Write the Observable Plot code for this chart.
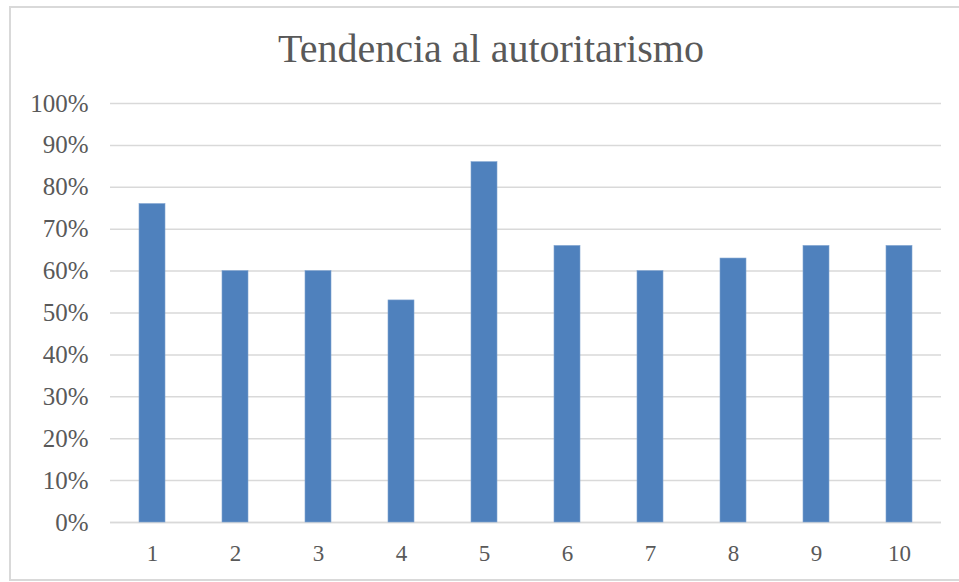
<!DOCTYPE html>
<html><head><meta charset="utf-8">
<script src="https://cdn.jsdelivr.net/npm/d3@7"></script>
<script src="https://cdn.jsdelivr.net/npm/@observablehq/plot@0.6"></script>
<style>
html,body{margin:0;padding:0;background:#fff;}
body{width:959px;height:582px;overflow:hidden;position:relative;font-family:"Liberation Serif",serif;}
#frame{position:absolute;left:9px;top:6px;width:990px;height:575px;border:2px solid #d9d9d9;box-sizing:border-box;}
#title{position:absolute;left:0;width:982px;top:29px;text-align:center;font-size:40px;line-height:40px;color:#595959;white-space:nowrap;}
#chart{position:absolute;left:0;top:80px;}
</style>
</head><body>
<div id="frame"></div>
<div id="title">Tendencia al autoritarismo</div>
<div id="chart"></div>
<script>
const categories = ["1","2","3","4","5","6","7","8","9","10"];
const values = [0.76, 0.60, 0.60, 0.53, 0.86, 0.66, 0.60, 0.63, 0.66, 0.66];
const yTicks = [0,0.1,0.2,0.3,0.4,0.5,0.6,0.7,0.8,0.9,1.0];

const data = categories.map((c,i)=>({cat:c, v:values[i]}));

const chart = Plot.plot({
  width: 959,
  height: 502,
  marginLeft: 110,
  marginRight: 18,
  marginTop: 23,
  marginBottom: 60,
  style: {fontFamily: '"Liberation Serif", serif', color: "#595959", background: "transparent"},
  x: {domain: categories, paddingInner: 0.69, paddingOuter: 0.345, label: null},
  y: {domain: [0, 1], label: null},
  marks: [
    Plot.gridY(yTicks, {stroke: "#d9d9d9", strokeOpacity: 1, strokeWidth: 1.5}),
    Plot.ruleY([0], {stroke: "#d9d9d9", strokeWidth: 1.5}),
    Plot.barY(data, {x: "cat", y: "v", fill: "#4f81bd", stroke: "#7fa3d0", strokeWidth: 0.6}),
    Plot.axisY(yTicks, {tickSize: 0, tickPadding: 22, tickFormat: d3.format(".0%"), fontSize: 25, label: null, fill: "#595959"}),
    Plot.axisX({tickSize: 0, tickPadding: 22, fontSize: 23, label: null, fill: "#595959"})
  ]
});
document.getElementById("chart").appendChild(chart);
</script>
</body></html>
